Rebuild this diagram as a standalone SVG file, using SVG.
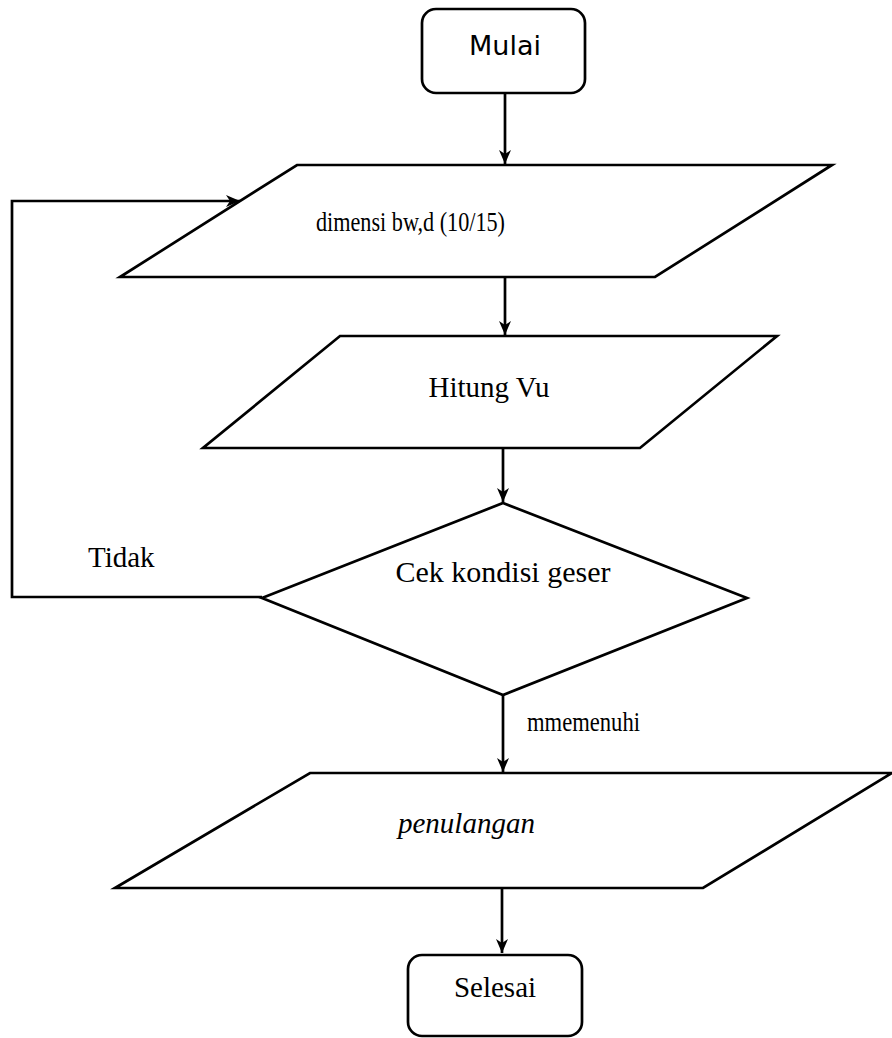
<svg xmlns="http://www.w3.org/2000/svg" width="892" height="1038" viewBox="0 0 892 1038">
<defs>
<style>
.shape{fill:#fff;stroke:#000;stroke-width:2.7;stroke-linejoin:miter}
.line{fill:none;stroke:#000;stroke-width:2.7}
.t{font-family:"Liberation Serif","Times New Roman",serif;font-size:29px;fill:#000}
.s{font-family:"DejaVu Sans",Verdana,sans-serif;font-size:27px;fill:#000}
</style>
<marker id="ah" viewBox="0 0 14 12" refX="14" refY="6" markerWidth="14" markerHeight="12" markerUnits="userSpaceOnUse" orient="auto">
<path d="M0,0 L14,6 L0,12 L4,6 Z" fill="#000"/>
</marker>
</defs>
<rect width="892" height="1038" fill="#fff"/>
<g id="connectors">
<line class="line" x1="505" y1="93" x2="505" y2="164" marker-end="url(#ah)"/>
<line class="line" x1="505" y1="277" x2="505" y2="335" marker-end="url(#ah)"/>
<line class="line" x1="503" y1="448" x2="503" y2="502" marker-end="url(#ah)"/>
<line class="line" x1="503" y1="695" x2="503" y2="772" marker-end="url(#ah)"/>
<line class="line" x1="502" y1="888" x2="502" y2="953" marker-end="url(#ah)"/>
<polyline class="line" points="262,597 12,597 12,201 240,201" marker-end="url(#ah)"/>
<text class="t" x="88" y="567">Tidak</text>
<text class="t" x="527" y="731" style="font-size:27px" textLength="113" lengthAdjust="spacingAndGlyphs">mmemenuhi</text>
</g>
<g id="mulai">
<rect class="shape" x="422" y="9" width="163" height="84" rx="14"/>
<text class="s" x="505" y="55" text-anchor="middle">Mulai</text>
</g>
<g id="dimensi">
<polygon class="shape" points="297,165 832,165 655,277 120,277"/>
<text class="t" x="316" y="231" style="font-size:27px" textLength="189" lengthAdjust="spacingAndGlyphs">dimensi bw,d (10/15)</text>
</g>
<g id="hitung">
<polygon class="shape" points="340,336 777,336 640,448 203,448"/>
<text class="t" x="489" y="397" text-anchor="middle">Hitung Vu</text>
</g>
<g id="cek">
<polygon class="shape" points="503,503 747,598 503,695 262,598"/>
<text class="t" x="503" y="582" text-anchor="middle" style="font-size:30px">Cek kondisi geser</text>
</g>
<g id="penulangan">
<polygon class="shape" points="310,773 892,773 703,888 115,888"/>
<text class="t" x="398" y="833" font-style="italic">penulangan</text>
</g>
<g id="selesai">
<rect class="shape" x="408" y="955" width="174" height="81" rx="14"/>
<text class="t" x="495" y="997" text-anchor="middle">Selesai</text>
</g>
</svg>
